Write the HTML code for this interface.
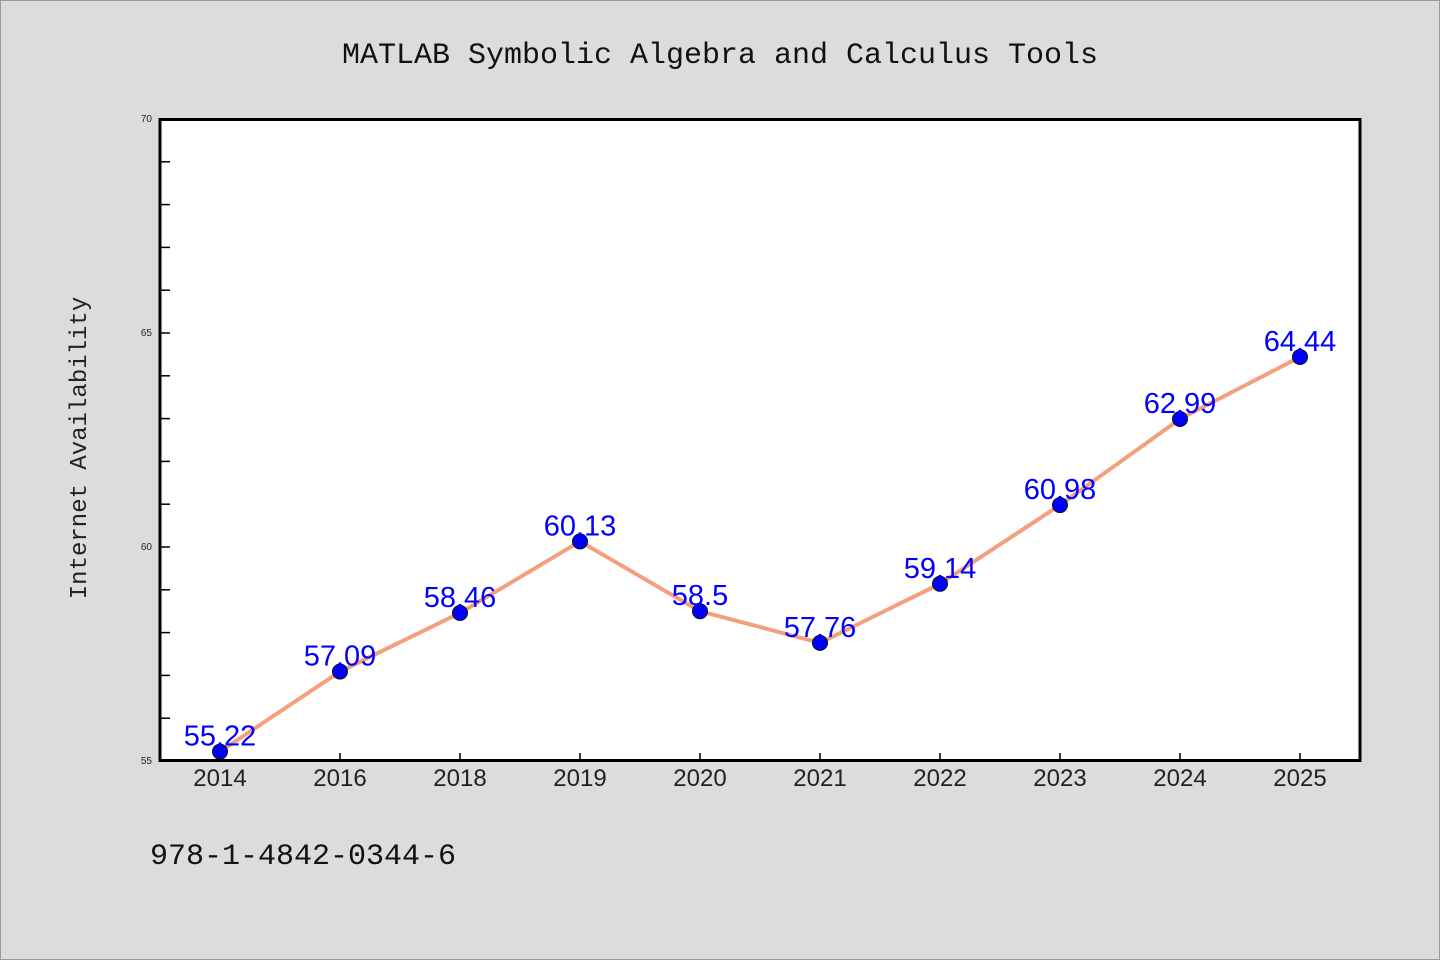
<!DOCTYPE html>
<html><head><meta charset="utf-8"><style>
body{margin:0;background:#dcdcdc;}
svg{display:block;}
</style></head><body>
<svg id="chart" width="1440" height="960">
<rect x="0.5" y="0.5" width="1439" height="959" fill="#dcdcdc" stroke="#999"/>
<text x="720" y="63" text-anchor="middle" font-family="Liberation Mono, monospace" font-size="30" fill="#111">MATLAB Symbolic Algebra and Calculus Tools</text>
<text transform="translate(86,448) rotate(-90)" text-anchor="middle" font-family="Liberation Mono, monospace" font-size="24" fill="#222">Internet Availability</text>
<text x="150" y="864" font-family="Liberation Mono, monospace" font-size="30" fill="#111">978-1-4842-0344-6</text>
<rect x="160" y="119.5" width="1200" height="641" fill="#fff"/>
<g id="ticks"></g>
<g id="series"></g>
<rect x="160" y="119.5" width="1200" height="641" fill="none" stroke="#000" stroke-width="3"/>
</svg>
<script>
const categories=["2014","2016","2018","2019","2020","2021","2022","2023","2024","2025"];
const values=[55.22,57.09,58.46,60.13,58.5,57.76,59.14,60.98,62.99,64.44];
const valueLabels=["55.22","57.09","58.46","60.13","58.5","57.76","59.14","60.98","62.99","64.44"];
const yTickLabels=[55,60,65,70];
const ns="http://www.w3.org/2000/svg";
const X0=160,W=1200,Y0=761,Y1=119,yMin=55,yMax=70;
const xs=i=>X0+W/categories.length*(i+0.5);
const ys=v=>Y0-(v-yMin)/(yMax-yMin)*(Y0-Y1);
function mk(tag,attrs,parent){const e=document.createElementNS(ns,tag);for(const k in attrs)e.setAttribute(k,attrs[k]);parent.appendChild(e);return e;}
const tg=document.getElementById('ticks'),sg=document.getElementById('series');
for(let v=yMin;v<=yMax;v++){
  const t=mk('line',{x1:X0,x2:X0+10,y1:ys(v),y2:ys(v),stroke:'#000','stroke-width':1.5},tg);
  
  
}
yTickLabels.forEach(v=>{
  const t=mk('text',{x:X0-8,y:ys(v)+3,'text-anchor':'end','font-family':'Liberation Sans, sans-serif','font-size':10,fill:'#222'},tg);
  t.textContent=v;
  
  
});
categories.forEach((c,i)=>{
  const l=mk('line',{x1:xs(i),x2:xs(i),y1:Y0,y2:Y0-8,stroke:'#000','stroke-width':1.5},tg);
  
  
  const t=mk('text',{x:xs(i),y:Y0+25,'text-anchor':'middle','font-family':'Liberation Sans, sans-serif','font-size':24,fill:'#222'},tg);
  t.textContent=c;
  
  
});
const p=mk('polyline',{points:values.map((v,i)=>xs(i)+','+ys(v)).join(' '),fill:'none',stroke:'#f4a07c','stroke-width':4,'stroke-linejoin':'round'},sg);


values.forEach((v,i)=>{
  const c=mk('circle',{cx:xs(i),cy:ys(v),r:7.5,fill:'#0000ff',stroke:'#111','stroke-width':1},sg);
  
  
});
values.forEach((v,i)=>{
  const t=mk('text',{x:xs(i),y:ys(v)-6,'text-anchor':'middle','font-family':'Liberation Sans, sans-serif','font-size':29,fill:'#0000ff'},sg);
  t.textContent=valueLabels[i];
  
  
});
</script>
</body></html>
